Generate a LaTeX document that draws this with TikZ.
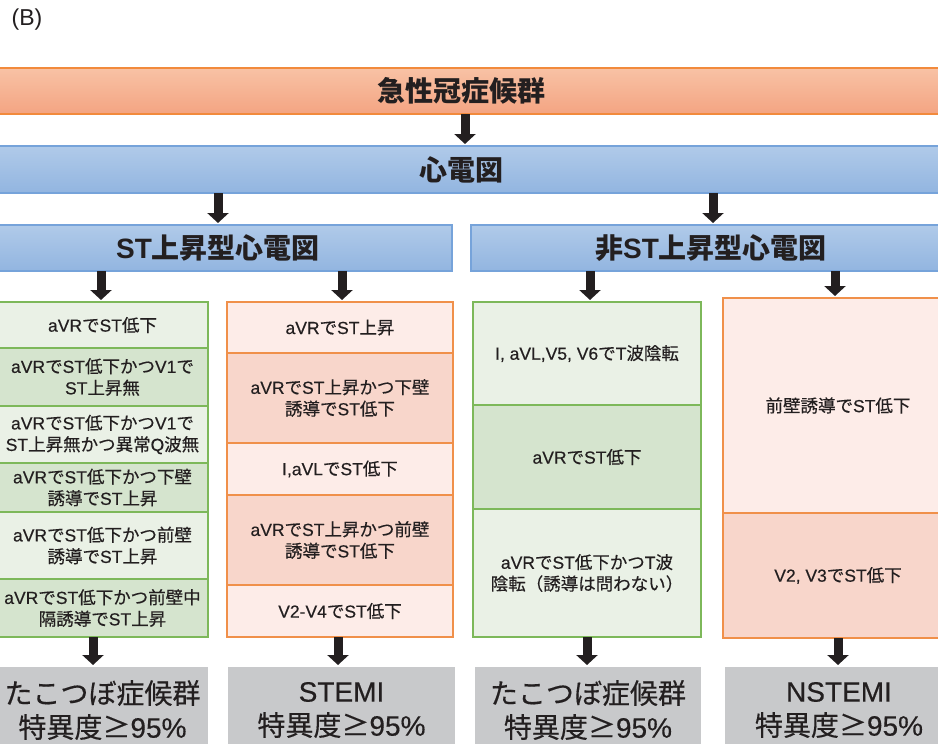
\documentclass[tikz,border=0pt]{standalone}
\usepackage{fontspec}
\setmainfont{Noto Sans CJK JP}
\newfontfamily\bodyjp{Noto Sans CJK JP}[FakeBold=0.4]
\newfontfamily\bodyla{Liberation Sans}[FakeBold=0.4]
\newfontfamily\headla{Liberation Sans}
\newcommand\en[1]{{\bodyla #1}}
\newcommand\hen[1]{{\headla\bfseries #1}}
\usetikzlibrary{arrows.meta}
\definecolor{txt}{HTML}{231F20}
\definecolor{orT}{HTML}{F8C2A5}
\definecolor{orB}{HTML}{F4A482}
\definecolor{orLine}{HTML}{F28A3C}
\definecolor{blT}{HTML}{B0CAE9}
\definecolor{blB}{HTML}{92B5E0}
\definecolor{blLine}{HTML}{76A3DA}
\definecolor{grLight}{HTML}{EAF1E6}
\definecolor{grDark}{HTML}{D5E4CE}
\definecolor{grLine}{HTML}{7DB85A}
\definecolor{pkLight}{HTML}{FDECE8}
\definecolor{pkDark}{HTML}{F8D6CB}
\definecolor{pkLine}{HTML}{F0904A}
\definecolor{grayBox}{HTML}{C8C9CB}
\begin{document}
\begin{tikzpicture}[x=1pt,y=-1pt,
  box/.style={rectangle, inner sep=0pt, outer sep=0pt, anchor=north west, align=center, text=txt},
  hdrO/.style={box, draw=orLine, line width=1.6pt, top color=orT, bottom color=orB, font=\fontsize{28}{32}\selectfont\bfseries},
  hdrB/.style={box, draw=blLine, line width=1.6pt, top color=blT, bottom color=blB, font=\fontsize{28}{32}\selectfont\bfseries},
  body/.style={box, line width=1.3pt, font=\bodyjp\fontsize{17.5}{21.5}\selectfont},
  gL/.style={body, draw=grLine, fill=grLight},
  gD/.style={body, draw=grLine, fill=grDark},
  pL/.style={body, draw=pkLine, fill=pkLight},
  pD/.style={body, draw=pkLine, fill=pkDark},
  res/.style={box, fill=grayBox, font=\bodyjp\fontsize{28}{34}\selectfont},
  arr/.style={draw=txt, line width=9pt, -{Triangle[width=21pt,length=10pt]}, shorten >=2pt}
]
\useasboundingbox (0,0) rectangle (938,744);
\clip (0,0) rectangle (938,744);
\fill[white] (0,0) rectangle (938,744);

\node[box, anchor=center, font=\headla\fontsize{23}{25}\selectfont] (lab) at (27,20) {(B)};

\node[hdrO, minimum width=962pt, minimum height=46pt] (acs) at (-20,68) {急性冠症候群};
\node[hdrB, minimum width=962pt, minimum height=47pt] (ecg) at (-20,146) {心電図};
\node[hdrB, minimum width=468pt, minimum height=46pt] (ste) at (-16,225) {\hen{ST}上昇型心電図};
\node[hdrB, minimum width=480pt, minimum height=46pt] (nste) at (471,225) {非\hen{ST}上昇型心電図};

% column 1
\node[gL, minimum width=211pt, minimum height=46pt] (a1) at (-3,302) {\en{aVR}で\en{ST}低下};
\node[gD, minimum width=211pt, minimum height=58pt] (a2) at (-3,348) {\en{aVR}で\en{ST}低下かつ\en{V1}で\\\en{ST}上昇無};
\node[gL, minimum width=211pt, minimum height=57pt] (a3) at (-3,406) {\en{aVR}で\en{ST}低下かつ\en{V1}で\\\en{ST}上昇無かつ異常\en{Q}波無};
\node[gD, minimum width=211pt, minimum height=49pt] (a4) at (-3,463) {\en{aVR}で\en{ST}低下かつ下壁\\誘導で\en{ST}上昇};
\node[gL, minimum width=211pt, minimum height=67pt] (a5) at (-3,512) {\en{aVR}で\en{ST}低下かつ前壁\\誘導で\en{ST}上昇};
\node[gD, minimum width=211pt, minimum height=58pt] (a6) at (-3,579) {\en{aVR}で\en{ST}低下かつ前壁中\\隔誘導で\en{ST}上昇};

% column 2
\node[pL, minimum width=226pt, minimum height=51pt] (b1) at (227,302) {\en{aVR}で\en{ST}上昇};
\node[pD, minimum width=226pt, minimum height=90pt] (b2) at (227,353) {\en{aVR}で\en{ST}上昇かつ下壁\\誘導で\en{ST}低下};
\node[pL, minimum width=226pt, minimum height=52pt] (b3) at (227,443) {\en{I,aVL}で\en{ST}低下};
\node[pD, minimum width=226pt, minimum height=90pt] (b4) at (227,495) {\en{aVR}で\en{ST}上昇かつ前壁\\誘導で\en{ST}低下};
\node[pL, minimum width=226pt, minimum height=52pt] (b5) at (227,585) {\en{V2-V4}で\en{ST}低下};

% column 3
\node[gL, minimum width=228pt, minimum height=103pt] (c1) at (473,302) {\en{I, aVL,V5, V6}で\en{T}波陰転};
\node[gD, minimum width=228pt, minimum height=104pt] (c2) at (473,405) {\en{aVR}で\en{ST}低下};
\node[gL, minimum width=228pt, minimum height=128pt] (c3) at (473,509) {\en{aVR}で\en{ST}低下かつ\en{T}波\\陰転（誘導は問わない）};

% column 4
\node[pL, minimum width=230pt, minimum height=215pt] (d1) at (723,298) {前壁誘導で\en{ST}低下};
\node[pD, minimum width=230pt, minimum height=125pt] (d2) at (723,513) {\en{V2, V3}で\en{ST}低下};

% results
\node[res, minimum width=211pt, minimum height=86pt] (e1) at (-3,667) {たこつぼ症候群\\特異度≥\en{95\%}};
\node[res, minimum width=227pt, minimum height=86pt] (e2) at (228,667) {\en{STEMI}\\特異度≥\en{95\%}};
\node[res, minimum width=226pt, minimum height=86pt] (e3) at (475,667) {たこつぼ症候群\\特異度≥\en{95\%}};
\node[res, minimum width=228pt, minimum height=86pt] (e4) at (725,667) {\en{NSTEMI}\\特異度≥\en{95\%}};

% arrows
\draw[arr] (acs.south -| 465,0) -- (ecg.north -| 465,0);
\draw[arr] (ecg.south -| 218,0) -- (ste.north -| 218,0);
\draw[arr] (ecg.south -| 713,0) -- (nste.north -| 713,0);
\draw[arr] (ste.south -| 101,0) -- (a1.north -| 101,0);
\draw[arr] (ste.south -| 342,0) -- (b1.north -| 342,0);
\draw[arr] (nste.south -| 590,0) -- (c1.north -| 590,0);
\draw[arr] (nste.south -| 835,0) -- (d1.north -| 835,0);
\draw[arr] (a6.south -| 93,0) -- (e1.north -| 93,0);
\draw[arr] (b5.south -| 338,0) -- (e2.north -| 338,0);
\draw[arr] (c3.south -| 587,0) -- (e3.north -| 587,0);
\draw[arr] (d2.south -| 838,0) -- (e4.north -| 838,0);
\end{tikzpicture}
\end{document}
